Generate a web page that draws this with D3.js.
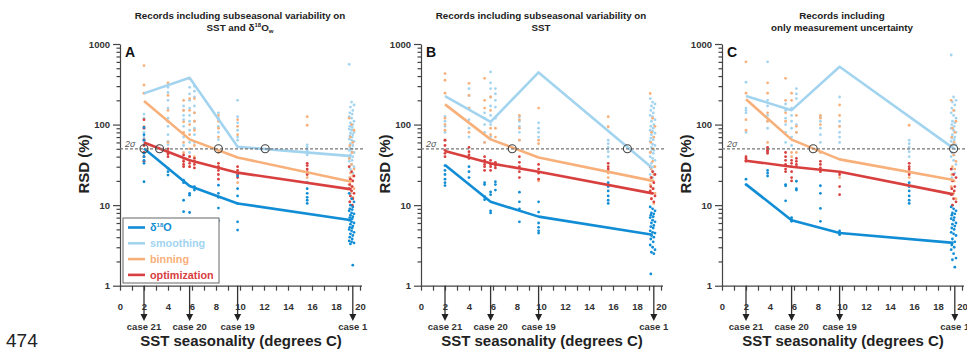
<!DOCTYPE html>
<html lang="en">
<head>
<meta charset="utf-8">
<title>RSD vs SST seasonality</title>
<script src="https://d3js.org/d3.v7.min.js"></script>
<style>
  body { margin: 0; background: #fff; }
  svg { display: block; font-family: "Liberation Sans", Arial, sans-serif; }
  .axis path, .axis line { stroke: #444; stroke-width: 1.2px; }
  .axis text { font-size: 9.5px; font-weight: bold; fill: #333; font-family: "Liberation Sans", Arial, sans-serif; }
  .title { font-size: 9.8px; font-weight: bold; fill: #222; text-anchor: middle; }
  .case-label { font-size: 9.5px; font-weight: bold; fill: #333; text-anchor: middle; }
  .big-label { font-size: 15px; font-weight: bold; fill: #222; text-anchor: middle; }
</style>
</head>
<body>
<script>
// ---- data ----
const lineX = [2, 5.8, 9.8, 19.3];
const caseX = [2, 5.8, 9.8, 19.4];
const caseLabels = ["case 21", "case 20", "case 19", "case 1"];
const sigma2 = 50;
const denseX = [19.1, 19.3, 19.5, 19.2, 19.4, 19.15, 19.35];

// panel A
const smoothLineA = [244, 381, 53, 40.6];
const binLineA = [196, 65.5, 39, 19.5];
const optLineA = [60, 36, 25.3, 15.7];
const d18OLineA = [50.6, 17.3, 10.5, 6.5];
const crossA = [2, 3.3, 8.2, 12.1];
const smoothDotsA = [[2, [245, 135, 120, 80, 70, 60]], [4, [290, 250, 200, 160, 120, 95, 75, 62, 56]],
  [5.3, [170, 150, 130, 115, 95, 70, 55]], [5.8, [290, 240, 200, 160, 130, 110, 85, 60, 45]],
  [6.2, [300, 260, 220, 170, 140, 110, 90, 75, 60]], [8.2, [140, 120, 95, 80, 65]],
  [9.8, [200, 125, 105, 85, 70, 64]], [15.6, [56, 52, 48, 45, 42]]];
const binDotsA = [[2, [540, 310, 245, 95, 64, 45]], [4, [330, 230, 150, 110, 60]],
  [5.3, [200, 150, 108, 80, 60, 45, 35]], [5.8, [370, 210, 150, 100, 75, 50, 40, 30]],
  [6.2, [210, 140, 110, 85, 55, 40]], [8.2, [130, 110, 90, 70, 45, 30]],
  [9.8, [115, 95, 75, 19]], [15.6, [125, 98, 25, 22]]];
const optDotsA = [[2, [115, 90, 65, 55, 45, 40, 35]], [4, [50, 46, 43, 40]], [5.3, [42, 38, 35, 32, 30]],
  [5.8, [40, 36, 33, 30]], [6.2, [38, 35, 32, 29]], [8.2, [33, 30, 27, 24, 21]],
  [9.8, [30, 27, 24, 22]], [15.6, [33, 31, 28, 26, 24]]];
const d18ODotsA = [[2, [92, 75, 64, 44, 40, 36, 33, 19.5]], [4, [28.6, 26, 23.6]],
  [5.3, [20.4, 19, 11.5, 8.3, 6.5]], [5.8, [14, 13.3, 8.1, 6.3]], [6.2, [17, 15.4]],
  [8.2, [17.7, 14, 12.5, 9.2, 6.4]], [9.8, [23, 16, 13, 10.5, 6.2, 4.9]],
  [15.6, [19, 16, 14, 12.5, 11.5, 10.5]]];
const smoothDenseA = [560, 190, 175, 165, 150, 140, 135, 125, 120, 110, 105, 100, 95, 92, 88, 85, 80, 78, 75, 72, 70, 66, 64, 62, 58, 55, 52, 50, 48, 46, 45, 42, 40, 38, 36, 35, 32, 30, 28, 25, 22];
const binDenseA = [120, 100, 85, 70, 60, 55, 45, 38, 32, 28, 25, 23, 22, 20, 18, 17, 16, 14, 12.5, 11, 10];
const optDenseA = [30, 26, 23, 21, 20, 18, 17, 16, 15, 14, 13, 12, 11, 10];
const d18ODenseA = [14, 12, 11, 10, 9.5, 9, 8.8, 8.5, 8, 7.8, 7.5, 7.2, 7, 6.8, 6.5, 6.2, 6, 5.8, 5.5, 5.3, 5.2, 5, 4.8, 4.6, 4.4, 4.2, 4, 3.8, 3.6, 3.5, 3.4, 3.3, 1.8];

// panel B
const smoothLineB = [226, 108, 444, 28.6];
const binLineB = [178, 65.5, 39, 20];
const optLineB = [47, 33, 26, 14];
const d18OLineB = [31.4, 11, 7.2, 4.3];
const crossB = [7.6, 17.2];
const smoothDotsB = [[2, [126, 110, 95, 80, 64]], [4, [280, 230, 160, 115, 90, 70]],
  [5.3, [140, 120, 100, 80, 60]], [5.8, [450, 330, 280, 220, 170, 130, 100, 70]],
  [6.2, [280, 240, 200, 165, 120]], [8.2, [125, 110, 95, 80, 64]],
  [9.8, [105, 90, 80, 70]], [15.6, [64, 58, 52, 46, 40]]];
const binDotsB = [[2, [430, 355, 245, 120, 100, 85, 64]], [4, [325, 230, 160, 80]],
  [5.3, [375, 200, 160, 60]], [5.8, [220, 150, 90, 75]], [6.2, [90, 70]],
  [8.2, [130, 115, 90, 64]], [9.8, [160, 64, 58, 25, 20]], [15.6, [125, 94, 25, 22]]];
const optDotsB = [[2, [64, 55, 48, 44, 40]], [4, [52, 46, 42, 38]], [5.3, [40, 36, 32, 30, 27]],
  [5.8, [36, 32, 30, 27]], [6.2, [34, 31, 29]], [8.2, [40, 34, 30, 26, 22]],
  [9.8, [32, 28, 25, 21]], [15.6, [33, 30, 28, 26]]];
const d18ODotsB = [[2, [31, 27, 24, 21, 19, 17.5]], [4, [30, 26, 22]], [5.3, [19, 18, 12.7, 11.7]],
  [5.8, [14.6, 13.5, 8.5, 8.0]], [6.2, [19.5, 18, 15.4]], [8.2, [14.5, 11, 9, 6.2]],
  [9.8, [11, 8.2, 6, 5.3, 4.8, 4.5]], [15.6, [19, 17, 15, 13, 11.5, 10.5]]];
const smoothDenseB = [210, 190, 180, 170, 160, 150, 140, 130, 125, 115, 110, 100, 95, 90, 85, 82, 78, 75, 70, 68, 65, 62, 57, 55, 52, 48, 46, 44, 40, 38, 36, 33, 30, 28, 26, 24, 22];
const binDenseB = [243, 120, 95, 80, 70, 60, 50, 45, 35, 30, 28, 24, 22, 20, 18, 16, 14, 12, 10.5];
const optDenseB = [30, 26, 24, 22, 19, 17, 16, 15, 14, 13, 12, 11];
const d18ODenseB = [9.5, 9, 8.5, 8, 7.8, 7.5, 7.2, 7, 6.5, 6.2, 6, 5.6, 5.4, 5.2, 4.8, 4.6, 4.5, 4.2, 4, 3.8, 3.5, 3.2, 3, 2.8, 2.6, 2.5, 1.4];

// panel C
const smoothLineC = [226, 151, 521, 50.6];
const binLineC = [206, 65, 37, 20.5];
const optLineC = [35.6, 30, 26, 13.6];
const d18OLineC = [18.1, 6.5, 4.5, 3.4];
const crossC = [7.6, 19.3];
const smoothDotsC = [[2, [335, 160, 150, 140, 80]], [3.8, [600, 200, 170, 130, 110, 90]],
  [5.3, [180, 150, 120, 100, 80, 60]], [5.8, [160, 130, 110, 90, 70, 55]],
  [6.2, [280, 240, 210, 100, 80]], [8.2, [125, 110, 90, 75, 60]],
  [9.8, [220, 110, 95, 80, 70, 60]], [15.6, [64, 58, 52, 46, 40]]];
const binDotsC = [[2, [600, 245, 115, 85]], [3.8, [330, 245, 140, 110, 60]], [5.3, [375, 200, 140, 110]],
  [5.8, [245, 200, 45, 40]], [6.2, [130, 95, 80, 45]], [8.2, [130, 120, 100, 45]],
  [9.8, [175, 130, 95, 25, 22]], [15.6, [98, 25, 22]]];
const optDotsC = [[2, [40, 38, 36, 35]], [3.8, [52, 50, 48, 46, 44]], [5.3, [45, 40, 36, 32, 28, 26]],
  [5.8, [36, 33, 30, 26, 22, 20]], [6.2, [38, 35, 32, 30]], [8.2, [35, 32, 29, 26]],
  [9.8, [24, 17, 13.5]], [15.6, [33, 30, 28, 26, 24]]];
const d18ODotsC = [[2, [21, 18]], [3.8, [27, 25, 23]], [5.3, [18, 17.4, 11.3]], [5.8, [7, 6.6, 6.3]],
  [6.2, [19.8, 16, 15.4]], [8.2, [17.4, 14, 9.1, 6.3]], [9.8, [4.8, 4.6, 4.4, 4.3]],
  [15.6, [19, 17, 15, 13, 11.5, 10.5]]];
const smoothDenseC = [730, 220, 200, 190, 175, 160, 150, 140, 130, 120, 110, 105, 100, 95, 90, 85, 80, 75, 70, 68, 65, 62, 58, 56, 52, 50, 45, 42, 40, 36, 32, 28, 25, 22];
const binDenseC = [200, 150, 110, 90, 80, 70, 60, 55, 42, 35, 30, 28, 24, 20, 17, 14, 12, 10];
const optDenseC = [28, 24, 22, 20, 17, 16, 15, 13.5, 12, 11, 10];
const d18ODenseC = [9.5, 9, 8.5, 8, 7.8, 7.5, 7, 6.8, 6.5, 6, 5.8, 5.5, 5.2, 5, 4.6, 4.4, 4.2, 3.8, 3.5, 3.2, 3, 2.8, 2.5, 2.2, 2.1, 1.7];

const seriesNames = ["smoothing", "binning", "optimization", "d18O"];
const colors = { d18O: "#118dd5", smoothing: "#a3d4ef", binning: "#f8b07a", optimization: "#d8403f" };

const panels = [
  { x0: 120, letter: "A", title: ["Records including subseasonal variability on", "SST_AND"],
    lines: { smoothing: smoothLineA, binning: binLineA, optimization: optLineA, d18O: d18OLineA },
    dots: { smoothing: smoothDotsA, binning: binDotsA, optimization: optDotsA, d18O: d18ODotsA },
    dense: { smoothing: smoothDenseA, binning: binDenseA, optimization: optDenseA, d18O: d18ODenseA },
    cross: crossA, legend: true },
  { x0: 421, letter: "B", title: ["Records including subseasonal variability on", "SST"],
    lines: { smoothing: smoothLineB, binning: binLineB, optimization: optLineB, d18O: d18OLineB },
    dots: { smoothing: smoothDotsB, binning: binDotsB, optimization: optDotsB, d18O: d18ODotsB },
    dense: { smoothing: smoothDenseB, binning: binDenseB, optimization: optDenseB, d18O: d18ODenseB },
    cross: crossB },
  { x0: 722, letter: "C", title: ["Records including", "only measurement uncertainty"],
    lines: { smoothing: smoothLineC, binning: binLineC, optimization: optLineC, d18O: d18OLineC },
    dots: { smoothing: smoothDotsC, binning: binDotsC, optimization: optDotsC, d18O: d18ODotsC },
    dense: { smoothing: smoothDenseC, binning: binDenseC, optimization: optDenseC, d18O: d18ODenseC },
    cross: crossC }
];

// ---- drawing ----
const svg = d3.select("body").append("svg").attr("width", 967).attr("height", 350);

const yScale = d3.scaleLog().domain([1, 1000]).range([285.7, 44]);
const yTicks = [];
[1, 10, 100].forEach(dec => { for (let k = 1; k < 10; k++) yTicks.push(k * dec); });
yTicks.push(1000);
const isMajor = d => [1, 10, 100, 1000].includes(d);

panels.forEach(p => {
  const g = svg.append("g");
  const xScale = d3.scaleLinear().domain([0, 20]).range([p.x0, p.x0 + 240]);

  // title
  g.append("text").attr("class", "title").attr("x", p.x0 + 120).attr("y", 18.5).text(p.title[0]);
  const t2 = g.append("text").attr("class", "title").attr("x", p.x0 + 120).attr("y", 30.5);
  if (p.title[1] === "SST_AND") {
    t2.append("tspan").text("SST and δ");
    t2.append("tspan").attr("font-size", "6px").attr("dy", -3.5).text("18");
    t2.append("tspan").attr("dy", 3.5).text("O");
    t2.append("tspan").attr("font-size", "6px").attr("dy", 2).text("w");
  } else {
    t2.text(p.title[1]);
  }

  // axes
  const yAxis = d3.axisLeft(yScale).tickValues(yTicks).tickSize(7).tickSizeOuter(0).tickPadding(3)
    .tickFormat(d => isMajor(d) ? d : "");
  const ya = g.append("g").attr("class", "axis").attr("transform", `translate(${p.x0},0)`).call(yAxis);
  ya.selectAll(".tick").filter(d => !isMajor(d)).select("line").attr("x2", -3.5);

  const xAxis = d3.axisBottom(xScale).tickValues(d3.range(0, 21)).tickSize(5).tickSizeOuter(0).tickPadding(13)
    .tickFormat(d => d % 2 === 0 ? d : "");
  g.append("g").attr("class", "axis").attr("transform", `translate(0,${yScale(1)})`).call(xAxis)
    .select(".domain").attr("d", `M${p.x0},0.5H${p.x0 + 242}`);

  // case arrows
  caseX.forEach((cx, i) => {
    const px = xScale(cx);
    g.append("line").attr("x1", px).attr("x2", px).attr("y1", yScale(1)).attr("y2", 315)
      .attr("stroke", "#333").attr("stroke-width", 1.3);
    g.append("path").attr("d", `M${px - 3.5},314L${px + 3.5},314L${px},321Z`).attr("fill", "#222");
    g.append("text").attr("class", "case-label").attr("x", px).attr("y", 329.5).text(caseLabels[i]);
  });

  // dots
  seriesNames.forEach(s => {
    const pts = [];
    p.dots[s].forEach(([cx, vals]) => vals.forEach(v => pts.push([cx, v])));
    p.dense[s].forEach((v, i) => pts.push([denseX[i % denseX.length], v]));
    g.append("g").selectAll("circle").data(pts).join("circle")
      .attr("cx", d => xScale(d[0])).attr("cy", d => yScale(d[1])).attr("r", 1.4)
      .attr("fill", colors[s]);
  });

  // lines
  seriesNames.forEach(s => {
    const line = d3.line().x((d, i) => xScale(lineX[i])).y(d => yScale(d));
    g.append("path").datum(p.lines[s]).attr("d", line).attr("fill", "none")
      .attr("stroke", colors[s]).attr("stroke-width", 2.6).attr("stroke-linejoin", "round");
  });

  // 2 sigma line
  g.append("line").attr("x1", p.x0).attr("x2", p.x0 + 245).attr("y1", yScale(sigma2)).attr("y2", yScale(sigma2))
    .attr("stroke", "#777").attr("stroke-width", 1.2).attr("stroke-dasharray", "3,2");
  g.append("text").attr("x", p.x0 + 5).attr("y", yScale(sigma2) - 2).attr("font-size", "9px")
    .attr("font-style", "italic").attr("fill", "#555").text("2σ");
  g.selectAll(".cross").data(p.cross).join("circle").attr("class", "cross")
    .attr("cx", d => xScale(d)).attr("cy", yScale(sigma2)).attr("r", 4)
    .attr("fill", "none").attr("stroke", "#444").attr("stroke-width", 1.1);

  // panel letter
  g.append("text").attr("x", p.x0 + 5).attr("y", 56.5).attr("font-size", "14px").attr("font-weight", "bold")
    .attr("fill", "#111").text(p.letter);

  // axis labels
  g.append("text").attr("class", "big-label").attr("x", p.x0 + 121).attr("y", 346).text("SST seasonality (degrees C)");
  g.append("text").attr("class", "big-label").attr("transform", `translate(${p.x0 - 31},164) rotate(-90)`).text("RSD (%)");

  // legend
  if (p.legend) {
    const lg = g.append("g").attr("transform", `translate(${p.x0 + 3},218)`);
    lg.append("rect").attr("width", 96).attr("height", 65).attr("fill", "#fff")
      .attr("stroke", "#666").attr("stroke-width", 1);
    const items = ["d18O", "smoothing", "binning", "optimization"];
    items.forEach((s, i) => {
      const yy = 9.5 + i * 15.8;
      lg.append("line").attr("x1", 5).attr("x2", 22).attr("y1", yy).attr("y2", yy)
        .attr("stroke", colors[s]).attr("stroke-width", 2.6);
      const t = lg.append("text").attr("x", 27).attr("y", yy + 3.8).attr("font-size", "10.8px")
        .attr("font-weight", "bold").attr("fill", colors[s]);
      if (s === "d18O") {
        t.append("tspan").text("δ");
        t.append("tspan").attr("font-size", "6px").attr("dy", -4).text("18");
        t.append("tspan").attr("dy", 4).text("O");
      } else {
        t.text(s);
      }
    });
  }
});

svg.append("text").attr("x", 6).attr("y", 347).attr("font-size", "19px").attr("fill", "#222").text("474");
</script>
</body>
</html>
